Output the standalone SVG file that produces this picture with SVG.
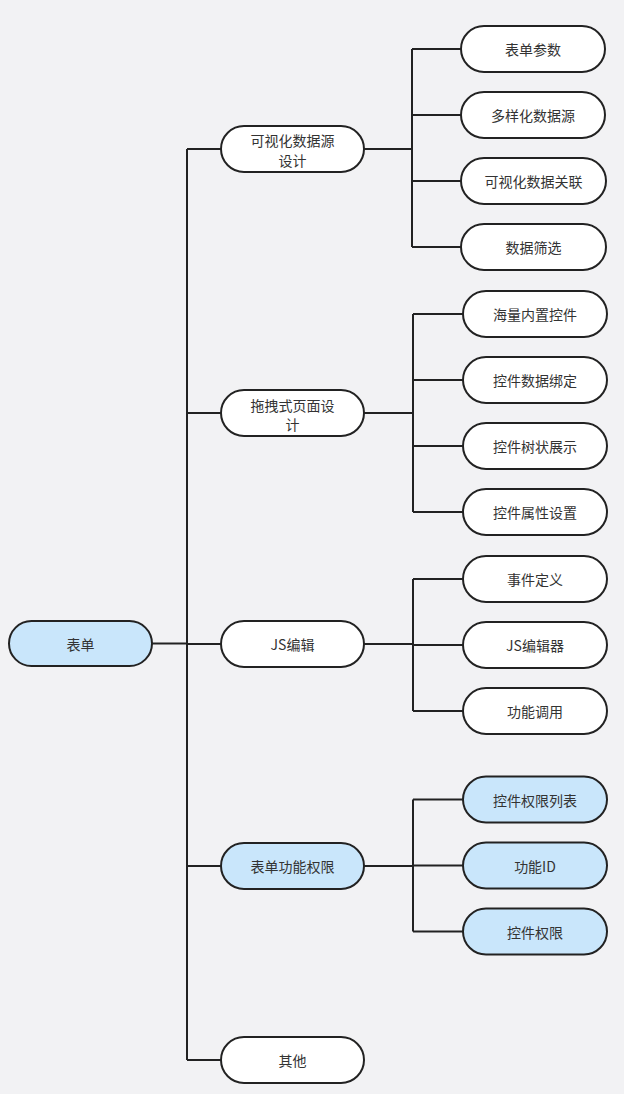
<svg xmlns="http://www.w3.org/2000/svg" width="624" height="1094" viewBox="0 0 624 1094">
<style>
.n{fill:#ffffff;stroke:#222222;stroke-width:2}
.b{fill:#c9e6fb;stroke:#222222;stroke-width:2}
.t{font-family:"Noto Sans CJK SC","Noto Sans",sans-serif;font-size:14px;fill:#333333;text-anchor:middle;dominant-baseline:central}
.c{fill:none;stroke:#222222;stroke-width:2}
</style>
<rect width="624" height="1094" fill="#f2f2f4"/>
<g id="connectors">
<path class="c" d="M152 643.5H187M187 149V1060M187 149H221M187 413H221M187 644H221M187 866H221M187 1060H221"/>
<path class="c" d="M364 149H412M412 49V247M412 49H461M412 115H461M412 181H461M412 247H461"/>
<path class="c" d="M364 413H413M413 314V512M413 314H463M413 380H463M413 446H463M413 512H463"/>
<path class="c" d="M364 644H413M413 579V711M413 579H463M413 645H463M413 711H463"/>
<path class="c" d="M364 866H413M413 799.5V931.5M413 799.5H463M413 865.5H463M413 931.5H463"/>
</g>
<g id="root"><rect class="b" x="9" y="621" width="143" height="45" rx="22.5"/><text class="t" x="80.5" y="643.5">表单</text></g>
<g id="n1"><rect class="n" x="221" y="126" width="143" height="46" rx="23"/><text class="t" x="292.5" y="140">可视化数据源</text><text class="t" x="292.5" y="159.5">设计</text></g>
<g id="n2"><rect class="n" x="221" y="390" width="143" height="46" rx="23"/><text class="t" x="292.5" y="404.5">拖拽式页面设</text><text class="t" x="292.5" y="424">计</text></g>
<g id="n3"><rect class="n" x="221" y="621" width="143" height="46" rx="23"/><text class="t" x="292.5" y="644">JS编辑</text></g>
<g id="n4"><rect class="b" x="221" y="843" width="143" height="46" rx="23"/><text class="t" x="292.5" y="866">表单功能权限</text></g>
<g id="n5"><rect class="n" x="221" y="1037" width="143" height="46" rx="23"/><text class="t" x="292.5" y="1060">其他</text></g>
<g id="l11"><rect class="n" x="461" y="26" width="144" height="46" rx="23"/><text class="t" x="533" y="49">表单参数</text></g>
<g id="l12"><rect class="n" x="461" y="92" width="144" height="46" rx="23"/><text class="t" x="533" y="115">多样化数据源</text></g>
<g id="l13"><rect class="n" x="461" y="158" width="145" height="46" rx="23"/><text class="t" x="533.5" y="181">可视化数据关联</text></g>
<g id="l14"><rect class="n" x="461" y="224" width="145" height="46" rx="23"/><text class="t" x="533.5" y="247">数据筛选</text></g>
<g id="l21"><rect class="n" x="463" y="291" width="144" height="46" rx="23"/><text class="t" x="535" y="314">海量内置控件</text></g>
<g id="l22"><rect class="n" x="463" y="357" width="144" height="46" rx="23"/><text class="t" x="535" y="380">控件数据绑定</text></g>
<g id="l23"><rect class="n" x="463" y="423" width="144" height="46" rx="23"/><text class="t" x="535" y="446">控件树状展示</text></g>
<g id="l24"><rect class="n" x="463" y="489" width="144" height="46" rx="23"/><text class="t" x="535" y="512">控件属性设置</text></g>
<g id="l31"><rect class="n" x="463" y="556" width="144" height="46" rx="23"/><text class="t" x="535" y="579">事件定义</text></g>
<g id="l32"><rect class="n" x="463" y="622" width="144" height="46" rx="23"/><text class="t" x="535" y="645">JS编辑器</text></g>
<g id="l33"><rect class="n" x="463" y="688" width="144" height="46" rx="23"/><text class="t" x="535" y="711">功能调用</text></g>
<g id="l41"><rect class="b" x="463" y="776.5" width="144" height="46" rx="23"/><text class="t" x="535" y="799.5">控件权限列表</text></g>
<g id="l42"><rect class="b" x="463" y="842.5" width="144" height="46" rx="23"/><text class="t" x="535" y="865.5">功能ID</text></g>
<g id="l43"><rect class="b" x="463" y="908.5" width="144" height="46" rx="23"/><text class="t" x="535" y="931.5">控件权限</text></g>
</svg>
